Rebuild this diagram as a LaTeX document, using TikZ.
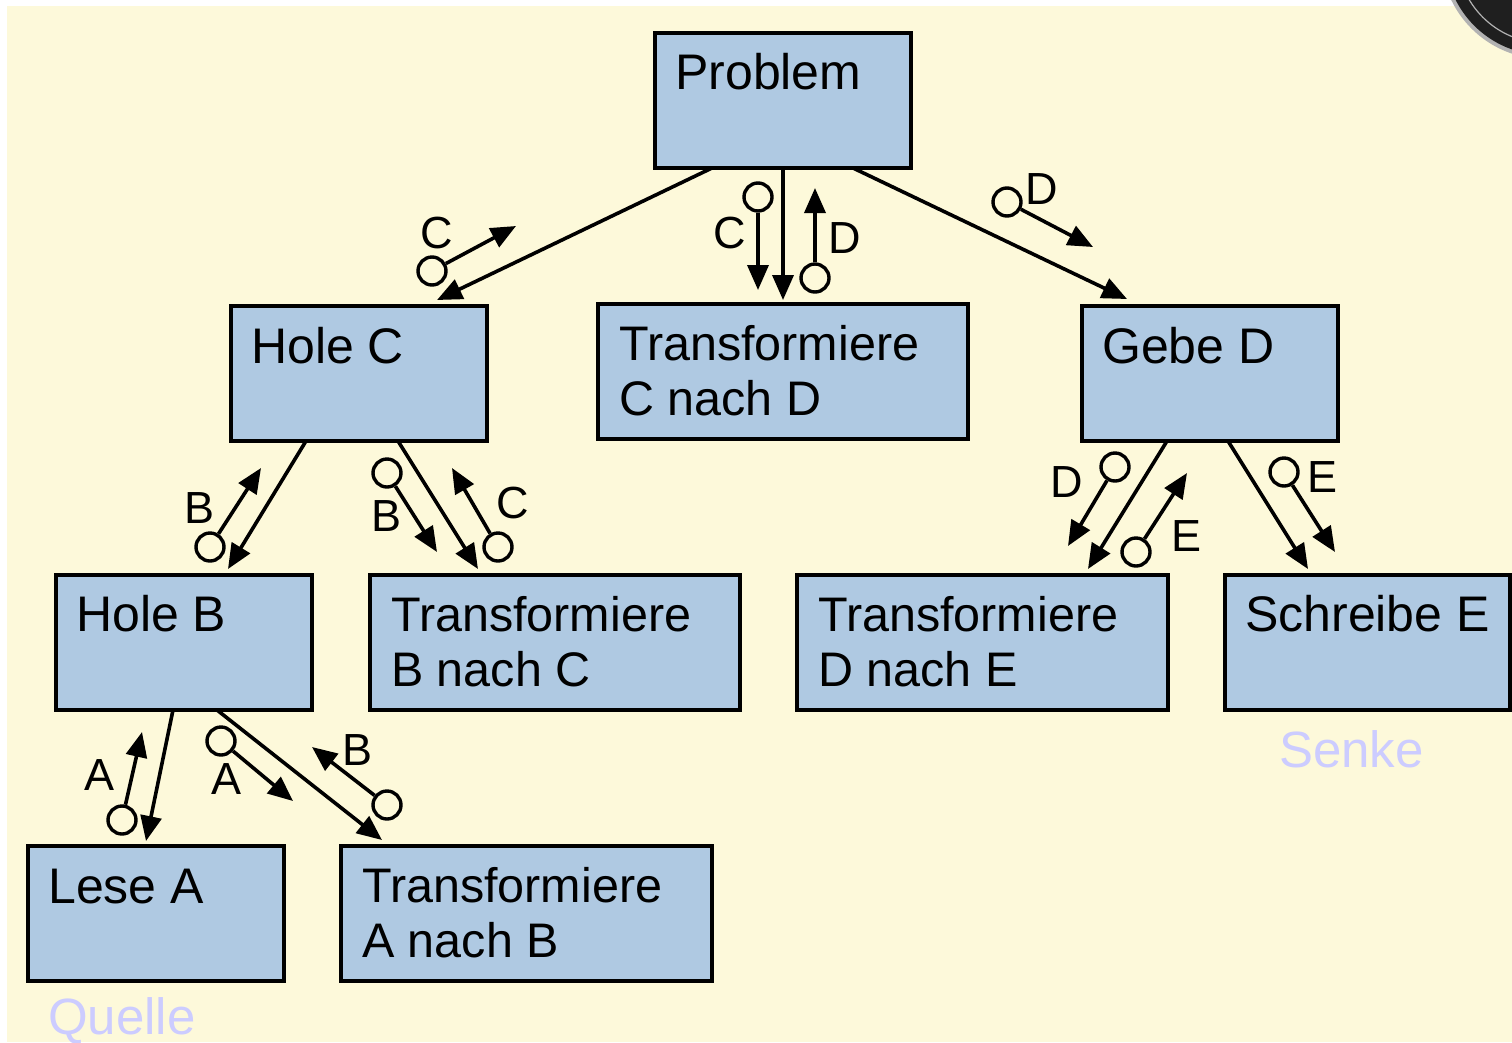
\documentclass[tikz,border=0pt]{standalone}
\usepackage{fontspec}
\setmainfont{Liberation Sans}
\usetikzlibrary{arrows.meta}
\definecolor{paper}{RGB}{253,249,218}
\definecolor{boxblue}{RGB}{175,201,226}
\definecolor{lavender}{RGB}{204,204,255}

\begin{document}
\begin{tikzpicture}[x=1pt,y=-1pt,
  box/.style={draw=black, line width=3.6pt, fill=boxblue, rectangle,
              inner sep=0pt, outer sep=0pt, anchor=north west},
  boxtext/.style={anchor=base west, inner sep=0pt,
                  font=\fontsize{50}{55}\selectfont},
  longtext/.style={anchor=base west, inner sep=0pt,
                   font=\fontsize{48.5}{54}\selectfont},
  lab/.style={inner sep=0pt, font=\fontsize{45}{50}\selectfont},
  note/.style={anchor=base west, inner sep=0pt, text=lavender,
               font=\fontsize{51}{56}\selectfont},
  ring/.style={circle, draw=black, line width=3.4pt, fill=paper,
               minimum size=28pt, inner sep=0pt},
  flow/.style={line width=3.6pt, -{Triangle[length=25pt,width=21pt]}},
]
\useasboundingbox (0,0) rectangle (1512,1042);
\clip (0,0) rectangle (1512,1042);

% sheet
\fill[white] (0,0) rectangle (1512,1042);
\fill[paper] (7,6) rectangle (1512,1042);

% stamp in the upper right corner
\fill[black!30] (1545,-45) circle (104);
\fill[black!88] (1545,-45) circle (100);
\draw[white!70!black, line width=1.2pt] (1545,-45) circle (88);
\foreach \a/\r in {200/70,215/80,230/75,245/62,260/84,205/92,235/94,250/90,222/66,240/85}
  \fill[white!75!black] (1545,-45) ++(\a:\r) circle (2.5);

% boxes
\node[box, minimum width=256pt, minimum height=135pt] (prob)  at (655,33)  {};
\node[box, minimum width=256pt, minimum height=135pt] (holec) at (231,306) {};
\node[box, minimum width=370pt, minimum height=135pt] (tcd)   at (598,304) {};
\node[box, minimum width=256pt, minimum height=135pt] (gebed) at (1082,306) {};
\node[box, minimum width=256pt, minimum height=135pt] (holeb) at (56,575)  {};
\node[box, minimum width=370pt, minimum height=135pt] (tbc)   at (370,575) {};
\node[box, minimum width=371pt, minimum height=135pt] (tde)   at (797,575) {};
\node[box, minimum width=285pt, minimum height=135pt] (schr)  at (1225,575) {};
\node[box, minimum width=256pt, minimum height=135pt] (lesea) at (28,846)  {};
\node[box, minimum width=371pt, minimum height=135pt] (tab)   at (341,846) {};

% box texts
\node[boxtext]  (probt)  at ([shift={(20,56)}]prob.north west)  {Problem};
\node[boxtext]  (holect) at ([shift={(20,57)}]holec.north west) {Hole C};
\node[longtext] (tcdt1)  at ([shift={(21,56)}]tcd.north west)   {Transformiere};
\node[longtext] (tcdt2)  at ([shift={(21,111)}]tcd.north west)  {C nach D};
\node[boxtext]  (gebedt) at ([shift={(20,57)}]gebed.north west) {Gebe D};
\node[boxtext]  (holebt) at ([shift={(20,56)}]holeb.north west) {Hole B};
\node[longtext] (tbct1)  at ([shift={(21,56)}]tbc.north west)   {Transformiere};
\node[longtext] (tbct2)  at ([shift={(21,111)}]tbc.north west)  {B nach C};
\node[longtext] (tdet1)  at ([shift={(21,56)}]tde.north west)   {Transformiere};
\node[longtext] (tdet2)  at ([shift={(21,111)}]tde.north west)  {D nach E};
\node[boxtext]  (schrt)  at ([shift={(20,56)}]schr.north west)  {Schreibe E};
\node[boxtext]  (leseat) at ([shift={(20,57)}]lesea.north west) {Lese A};
\node[longtext] (tabt1)  at ([shift={(21,56)}]tab.north west)   {Transformiere};
\node[longtext] (tabt2)  at ([shift={(21,111)}]tab.north west)  {A nach B};

% source and sink notes
\node[note] (quelle) at (48,1034) {Quelle};
\node[note] (senke)  at (1279,767) {Senke};

% call structure
\draw[flow] ([shift={(57,0)}]prob.south west)   -- ([shift={(206,-6)}]holec.north west);
\draw[flow] ([shift={(128,0)}]prob.south west)  -- ([shift={(185,-4)}]tcd.north west);
\draw[flow] ([shift={(198,0)}]prob.south west)  -- ([shift={(45,-7)}]gebed.north west);
\draw[flow] ([shift={(75,0)}]holec.south west)  -- ([shift={(172,-6)}]holeb.north west);
\draw[flow] ([shift={(167,0)}]holec.south west) -- ([shift={(108,-6)}]tbc.north west);
\draw[flow] ([shift={(85,0)}]gebed.south west)  -- ([shift={(291,-6)}]tde.north west);
\draw[flow] ([shift={(146,0)}]gebed.south west) -- ([shift={(83,-6)}]schr.north west);
\draw[flow] ([shift={(117,0)}]holeb.south west) -- ([shift={(118,-5)}]lesea.north west);
\draw[flow] ([shift={(161,0)}]holeb.south west) -- ([shift={(41,-6)}]tab.north west);

% data couples: ring, arrow end, letter
\foreach \n/\cx/\cy/\tx/\ty/\lx/\ly/\l in {
   a/432/271/516/226/437/233/C,
   b/758/197/758/290/730/233/C,
   c/815/278/815/188/845/238/D,
   d/1007/202/1093/247/1042/189/D,
   e/210/547/261/468/200/508/B,
   f/387/473/437/552/387/516/B,
   g/498/547/452/468/513/503/C,
   h/1115/467/1068/546/1067/482/D,
   i/1136/552/1187/473/1186/536/E,
   j/1284/472/1335/552/1322/477/E,
   k/122/820/142/732/100/775/A,
   l/221/741/293/801/227/779/A,
   m/387/805/312/747/358/750/B}{
  \node[ring] (ring\n) at (\cx,\cy) {};
  \coordinate (end\n) at (\tx,\ty);
  \node[lab] (lab\n) at (\lx,\ly) {\l};
  \draw[flow] (ring\n) -- (end\n);
}
\end{tikzpicture}
\end{document}
